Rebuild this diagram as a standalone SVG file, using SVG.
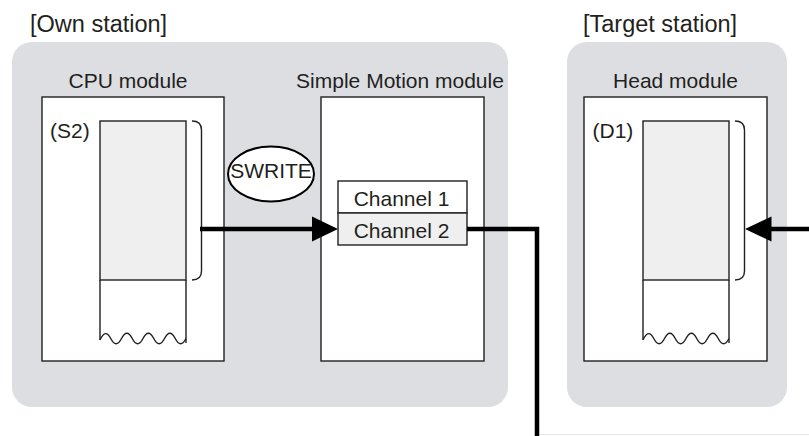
<svg xmlns="http://www.w3.org/2000/svg" width="809" height="436" viewBox="0 0 809 436">
<style>
  text { font-family: "Liberation Sans", Arial, sans-serif; fill: #231f20; }
  .t { font-size: 21px; }
  .h { font-size: 23.5px; }
  .panel { fill: #dcdee2; stroke: none; }
  .box { fill: #ffffff; stroke: #231f20; stroke-width: 1.4; }
  .data { fill: #efefef; stroke: #231f20; stroke-width: 1.4; }
  .thin { fill: none; stroke: #231f20; stroke-width: 1.4; }
  .wire { fill: none; stroke: #000000; stroke-width: 4.5; stroke-linejoin: miter; }
  .head { fill: #000000; stroke: none; }
</style>
<g id="own-station">
  <text class="h" x="30" y="31.5">[Own station]</text>
  <rect class="panel" x="12" y="42" width="496" height="365" rx="20" ry="20"/>
</g>
<g id="target-station">
  <text class="h" x="583" y="31.5">[Target station]</text>
  <rect class="panel" x="567" y="42" width="220" height="365" rx="20" ry="20"/>
</g>
<g id="cpu-module">
  <text class="t" x="128" y="88" text-anchor="middle">CPU module</text>
  <rect class="box" x="42" y="97" width="182" height="264"/>
  <text class="t" x="50" y="137.5">(S2)</text>
  <path class="thin" d="M100,340 V280 M186,280 V343"/>
  <path class="thin" d="M100,340 Q105.375,328 110.75,338.5 T121.5,338.5 T132.25,338.5 T143,338.5 T153.75,338.5 T164.5,338.5 T175.25,338.5 T186,338.5"/>
  <rect class="data" x="100" y="121" width="86" height="159"/>
  <path class="thin" d="M192,121 Q201.5,121 201.5,130 V271 Q201.5,280 192,280"/>
</g>
<g id="swrite">
  <ellipse cx="271" cy="174" rx="43" ry="27.5" fill="#ffffff" stroke="#000000" stroke-width="2"/>
  <text class="t" x="271" y="178" text-anchor="middle">SWRITE</text>
</g>
<g id="simple-motion-module">
  <text class="t" x="400" y="88" text-anchor="middle">Simple Motion module</text>
  <rect class="box" x="321" y="97" width="163" height="264"/>
  <rect class="box" x="338" y="181" width="129" height="32"/>
  <text class="t" x="401.5" y="205.5" text-anchor="middle">Channel 1</text>
  <rect class="data" x="338" y="213" width="129" height="32"/>
  <text class="t" x="401.5" y="237.5" text-anchor="middle">Channel 2</text>
</g>
<g id="head-module">
  <text class="t" x="675.5" y="88" text-anchor="middle">Head module</text>
  <rect class="box" x="584" y="97" width="183" height="264"/>
  <text class="t" x="592.5" y="137.5">(D1)</text>
  <path class="thin" d="M643,340 V280 M729,280 V343"/>
  <path class="thin" d="M643,340 Q648.375,328 653.75,338.5 T664.5,338.5 T675.25,338.5 T686,338.5 T696.75,338.5 T707.5,338.5 T718.25,338.5 T729,338.5"/>
  <rect class="data" x="643" y="121" width="86" height="159"/>
  <path class="thin" d="M735,121 Q744.5,121 744.5,130 V271 Q744.5,280 735,280"/>
</g>
<g id="connectors">
  <path class="wire" d="M200,229 H314"/>
  <polygon class="head" points="338,229 312,216.5 312,241.5"/>
  <path class="wire" d="M467,229 H537 V436"/>
  <path class="wire" d="M809,229 H769"/>
  <polygon class="head" points="745,229 771.5,216.5 771.5,241.5"/>
  <line x1="540" y1="434.5" x2="809" y2="434.5" stroke="#e4e4e4" stroke-width="1"/>
</g>
</svg>
